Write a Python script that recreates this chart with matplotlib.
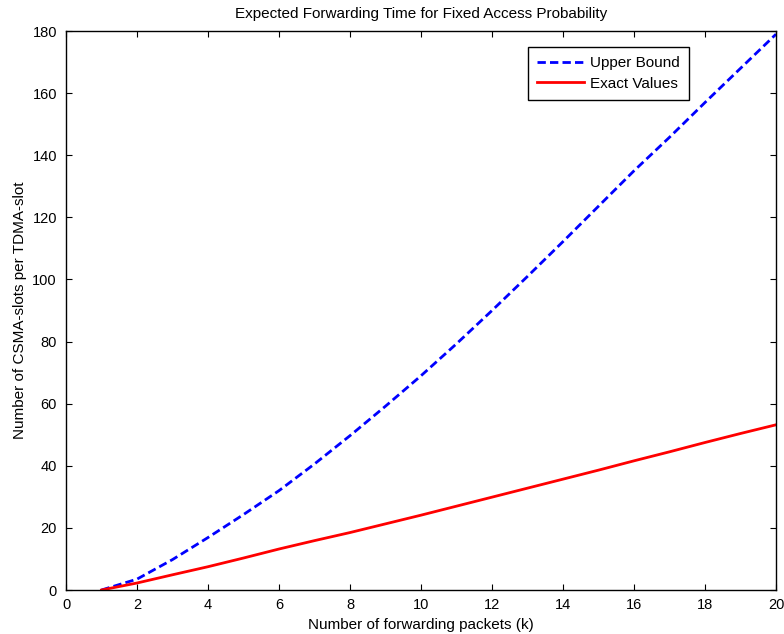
import numpy as np
import matplotlib
matplotlib.use("Agg")
import matplotlib.pyplot as plt

plt.rcParams['font.family'] = ['Liberation Sans', 'DejaVu Sans']

# forwarding packets k
k = np.arange(1, 21)
# expected number of CSMA slots, upper bound and exact
upper_bound = [0, 3.5, 9.8, 16.9, 24.3, 32.0, 40.6, 49.7, 59.2, 69.0,
               79.3, 90.0, 101.0, 112.2, 123.6, 135.0, 145.8, 157.0, 168.0, 179.0]
exact_values = [0, 2.25, 4.9, 7.5, 10.3, 13.2, 15.9, 18.5, 21.3, 24.1,
                27.0, 29.9, 32.8, 35.7, 38.6, 41.6, 44.5, 47.5, 50.4, 53.2]

fig = plt.figure(figsize=(7.84, 6.34), dpi=100)
ax = fig.add_axes([0.0842, 0.0694, 0.9056, 0.8816])

ax.plot(k, upper_bound, color='#0000ff', lw=2, dashes=(3.0, 1.5), label='Upper Bound')
ax.plot(k, exact_values, color='#ff0000', lw=2, label='Exact Values')

ax.set_xlim(0, 20)
ax.set_ylim(0, 180)
ax.set_xticks(np.arange(0, 21, 2))
ax.set_yticks(np.arange(0, 181, 20))
ax.tick_params(direction='in', top=True, right=True, length=4.5, width=0.8,
               labelsize=10.5)
ax.tick_params(axis='x', pad=5.5)
ax.tick_params(axis='y', pad=6.5)
for s in ax.spines.values():
    s.set_linewidth(1.0)

ax.set_title('Expected Forwarding Time for Fixed Access Probability', fontsize=11, pad=9.5)
ax.set_xlabel('Number of forwarding packets (k)', fontsize=11, labelpad=4.5)
ax.set_ylabel('Number of CSMA-slots per TDMA-slot', fontsize=11, labelpad=4)

leg = ax.legend(loc='upper right', bbox_to_anchor=(0.878, 0.972), fontsize=11,
                fancybox=False, edgecolor='black', framealpha=1,
                handlelength=3.1, handletextpad=0.4, borderpad=0.6,
                labelspacing=0.45, borderaxespad=0)
leg.get_frame().set_linewidth(1.0)

fig.savefig('out.png', dpi=100)
